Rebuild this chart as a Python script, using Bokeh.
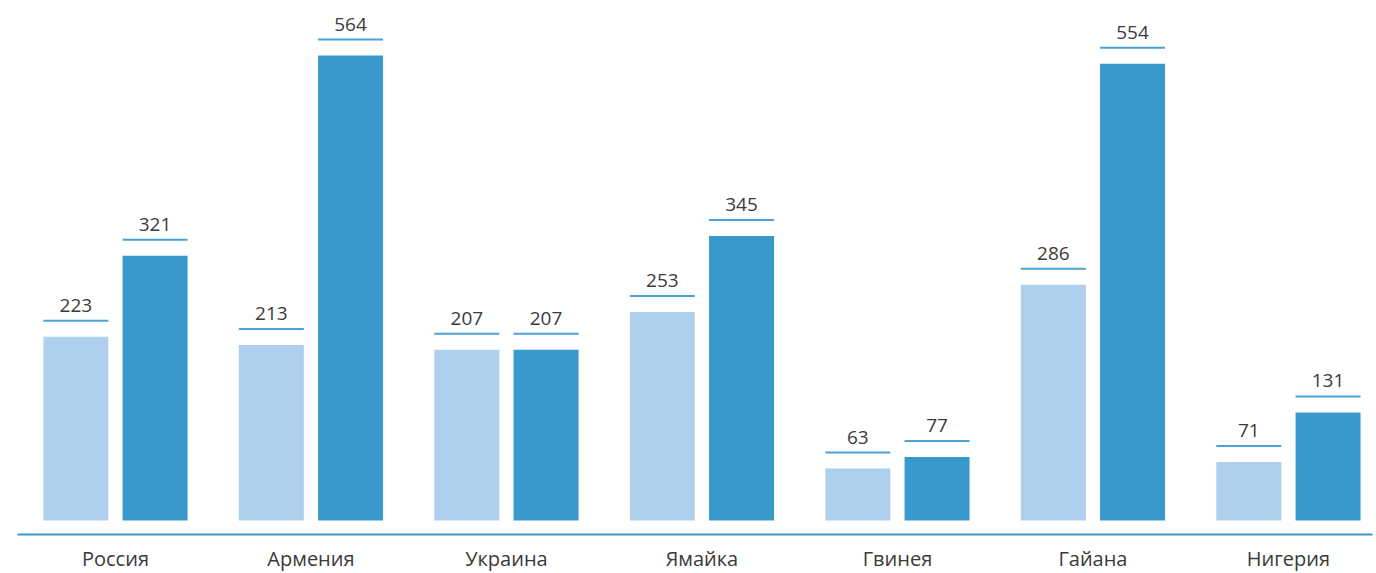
from bokeh.plotting import figure
from bokeh.models import Range1d, FixedTicker, ColumnDataSource
from bokeh.core.properties import value
from bokeh.embed import file_html
from bokeh.resources import INLINE

countries = ["Россия", "Армения", "Украина", "Ямайка", "Гвинея", "Гайана", "Нигерия"]
series_a = [223, 213, 207, 253, 63, 286, 71]
series_b = [321, 564, 207, 345, 77, 554, 131]

LIGHT = "#aed0ed"
DARK = "#3a99cc"
TEXT = "#3a3a3a"
FONT = "Open Sans"

FW, FH = 1355, 534
ppu = 465 / 564.0
y_start = -14 / ppu
y_end = y_start + FH / ppu
x_start = -0.501
x_end = x_start + FW / 195.5

p = figure(frame_width=FW, frame_height=FH, output_backend="svg", toolbar_location=None,
           x_range=Range1d(x_start, x_end), y_range=Range1d(y_start, y_end),
           min_border_left=17, min_border_right=4, min_border_top=0, min_border_bottom=39)
p.outline_line_color = None
p.xgrid.visible = False
p.ygrid.visible = False
p.yaxis.visible = False

off = 0.2026
bw = 0.3325
idx = list(range(len(countries)))
for vals, color, sign in [(series_a, LIGHT, -1), (series_b, DARK, 1)]:
    xs = [i + sign * off for i in idx]
    src = ColumnDataSource(dict(
        x=xs, top=vals,
        x0=[x - bw / 2 for x in xs], x1=[x + bw / 2 for x in xs],
        ly=[v + 16 / ppu for v in vals],
        ty=[v + 31.5 / ppu for v in vals],
        txt=[str(v) for v in vals]))
    p.vbar(x="x", top="top", bottom=0, width=bw, source=src, fill_color=color, line_color=None)
    p.segment(x0="x0", x1="x1", y0="ly", y1="ly", source=src, line_color="#4aa2d6", line_width=2)
    p.text(x="x", y="ty", text="txt", source=src, text_align="center", text_baseline="alphabetic",
           text_font=value(FONT), text_font_size="19px", text_color=TEXT)

ax = p.xaxis[0]
ax.ticker = FixedTicker(ticks=idx)
ax.major_label_overrides = {i: c for i, c in zip(idx, countries)}
ax.axis_line_color = DARK
ax.axis_line_width = 2
ax.major_tick_line_color = None
ax.minor_tick_line_color = None
ax.major_label_text_font = FONT
ax.major_label_text_font_size = "20px"
ax.major_label_text_color = TEXT
ax.major_label_standoff = 4

open("out.html", "w").write(file_html(p, INLINE))
